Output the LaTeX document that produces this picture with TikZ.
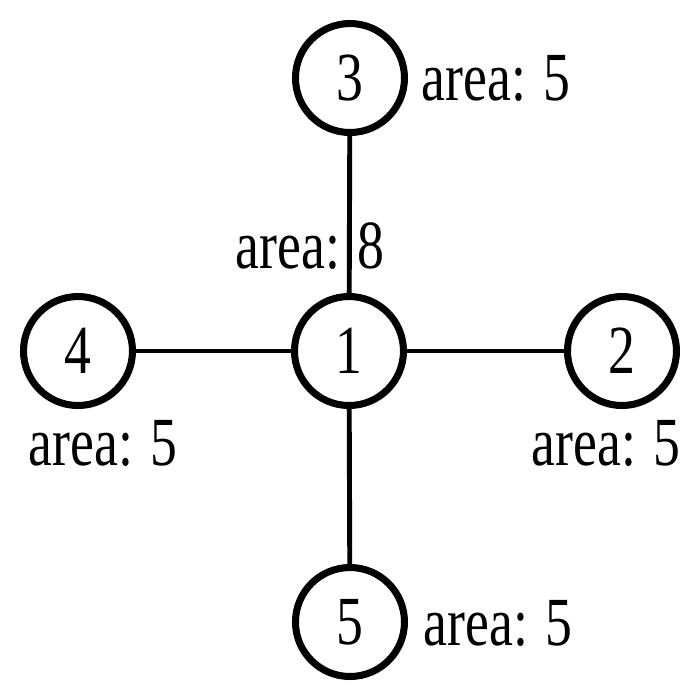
\documentclass[tikz,border=0pt]{standalone}
\usepackage{fontspec}
\setmainfont[FakeStretch=0.78]{Liberation Serif}
\usepackage{tikz}
\tikzset{
	vertex/.style={circle, draw=black, line width=2pt, minimum size=1.09cm, inner sep=0pt, font=\fontsize{19.6}{22}\selectfont},
	edge/.style={line width=1.4pt},
	arealbl/.style={inner sep=0pt, anchor=base west, font=\fontsize{19.6}{22}\selectfont},
}
\begin{document}
\begin{tikzpicture}
	\useasboundingbox (-3.49,-3.49) rectangle (3.51,3.51);
	% vertices
	\node[vertex] (n1) at (0,0) {1};
	\node[vertex] (n2) at (2.73,0) {2};
	\node[vertex] (n3) at (0.01,2.73) {3};
	\node[vertex] (n4) at (-2.71,0) {4};
	\node[vertex] (n5) at (0.01,-2.71) {5};
	% edges
	\draw[edge] (n1) -- (n2);
	\draw[edge] (n1) -- (n3);
	\draw[edge] (n1) -- (n4);
	\draw[edge] (n1) -- (n5);
	% areas
	\node[arealbl] (a1) at (-1.14,0.83) {area: 8};
	\node[arealbl] (a2) at (1.82,-1.14) {area: 5};
	\node[arealbl] (a3) at (0.72,2.51) {area: 5};
	\node[arealbl] (a4) at (-3.21,-1.14) {area: 5};
	\node[arealbl] (a5) at (0.74,-2.94) {area: 5};
\end{tikzpicture}
\end{document}
